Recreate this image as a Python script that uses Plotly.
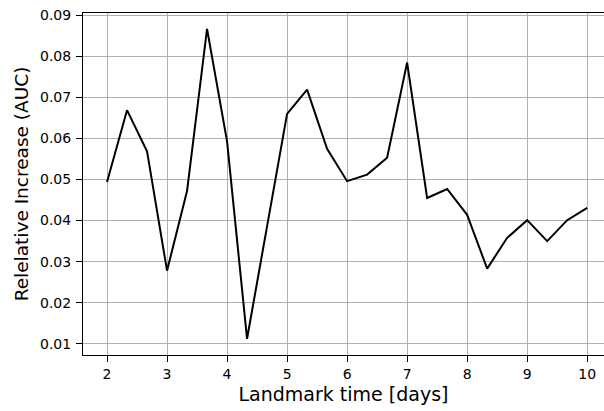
import plotly.graph_objects as go

landmark_days = [2 + i / 3 for i in range(25)]
relative_increase = [
    0.0494, 0.0669, 0.0569, 0.0278, 0.0472, 0.0867, 0.0593, 0.0112,
    0.0386, 0.0660, 0.0719, 0.0575, 0.0496, 0.0512, 0.0553, 0.0785,
    0.0455, 0.0477, 0.0414, 0.0283, 0.0358, 0.0401, 0.0350, 0.0401, 0.0431,
]
x_ticks = [2, 3, 4, 5, 6, 7, 8, 9, 10]
y_ticks = [0.01, 0.02, 0.03, 0.04, 0.05, 0.06, 0.07, 0.08, 0.09]

fig = go.Figure()
fig.add_trace(go.Scatter(
    x=landmark_days, y=relative_increase, mode="lines",
    line=dict(color="black", width=2), showlegend=False,
))

font = "DejaVu Sans, Arial, sans-serif"
fig.update_layout(
    width=604, height=411,
    margin=dict(l=83, r=0, t=13, b=56),
    paper_bgcolor="white", plot_bgcolor="white",
    font=dict(family=font, color="black", size=14),
)
fig.update_xaxes(
    range=[1.6, 10.28], tickvals=x_ticks, ticktext=[str(v) for v in x_ticks],
    showgrid=True, gridcolor="#b0b0b0", gridwidth=1,
    showline=True, linecolor="black", linewidth=1, mirror=True,
    ticks="outside", ticklen=6, tickcolor="black", tickwidth=1,
    tickfont=dict(size=14), zeroline=False, ticklabelstandoff=0,
    title=dict(text="Landmark time [days]", font=dict(size=19), standoff=6),
)
fig.update_yaxes(
    range=[0.00725, 0.09057], tickvals=y_ticks, ticktext=[f"{v:.2f}" for v in y_ticks],
    showgrid=True, gridcolor="#b0b0b0", gridwidth=1,
    showline=True, linecolor="black", linewidth=1, mirror=True,
    ticks="outside", ticklen=6, tickcolor="black", tickwidth=1,
    tickfont=dict(size=14), zeroline=False, ticklabelstandoff=2,
    title=dict(text="Relelative Increase (AUC)", font=dict(size=18.5), standoff=6),
)

fig.write_html("out.html")
